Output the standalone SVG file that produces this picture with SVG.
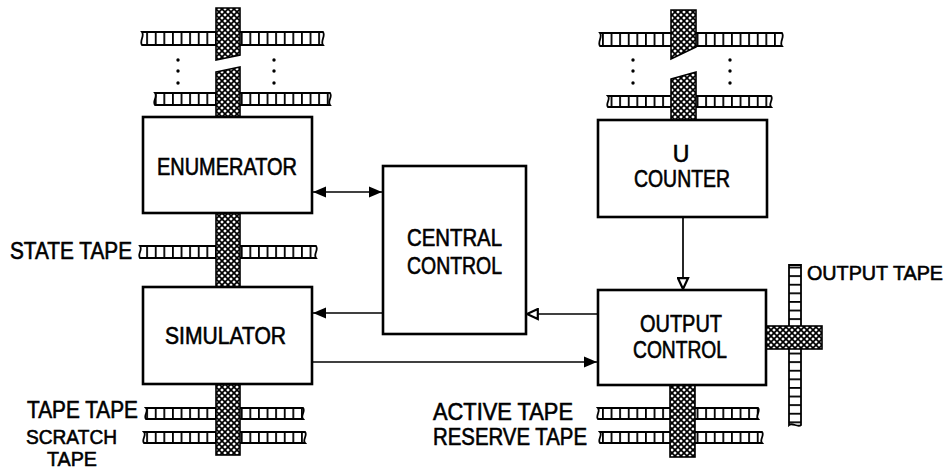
<svg xmlns="http://www.w3.org/2000/svg" width="952" height="472" viewBox="0 0 952 472">
<defs>
<pattern id="hatch" patternUnits="userSpaceOnUse" width="6" height="6">
<rect width="6" height="6" fill="#000"/>
<polygon points="3,1.2 4.8,3 3,4.8 1.2,3" fill="#fff"/>
<polygon points="0,-1.8 1.8,0 0,1.8 -1.8,0" fill="#fff"/>
<polygon points="6,-1.8 7.8,0 6,1.8 4.2,0" fill="#fff"/>
<polygon points="0,4.2 1.8,6 0,7.8 -1.8,6" fill="#fff"/>
<polygon points="6,4.2 7.8,6 6,7.8 4.2,6" fill="#fff"/>
</pattern>
<pattern id="cellsH" patternUnits="userSpaceOnUse" width="8.6" height="20">
<rect width="8.6" height="20" fill="#fff"/>
<rect x="0" y="0" width="1.8" height="20" fill="#000"/>
</pattern>
<pattern id="cellsV" patternUnits="userSpaceOnUse" width="20" height="8.6">
<rect width="20" height="8.6" fill="#fff"/>
<rect x="0" y="0" width="20" height="1.8" fill="#000"/>
</pattern>
<marker id="ah" markerUnits="userSpaceOnUse" markerWidth="14" markerHeight="12" refX="13" refY="6" orient="auto-start-reverse">
<path d="M0,0.5 L13,6 L0,11.5 Z" fill="#000"/>
</marker>
<marker id="ahh" markerUnits="userSpaceOnUse" markerWidth="14" markerHeight="13" refX="12" refY="6.5" orient="auto">
<path d="M1.2,1.5 L12,6.5 L1.2,11.5 Z" fill="#fff" stroke="#000" stroke-width="2.2"/>
</marker>
</defs>
<style>
.tapeH{fill:url(#cellsH);stroke:#000;stroke-width:1.8}
.tapeV{fill:url(#cellsV);stroke:#000;stroke-width:1.8}
.strip{fill:url(#hatch);stroke:#000;stroke-width:1.6}
.box{fill:#fff;stroke:#000;stroke-width:2.6}
.conn{fill:none;stroke:#000;stroke-width:1.7}
.lbl{font-family:"Liberation Sans",Arial,sans-serif;font-size:23px;fill:#000;stroke:#000;stroke-width:0.6}
.sm{font-size:21px}
.xs{font-size:20px}
.dot{fill:#000}
</style>

<g id="tapes">
<path class="tapeH" d="M142,32 H323 C326,36 320,41 323,45 H142 C139,41 145,36 142,32 Z"/>
<path class="tapeH" d="M155,93 H330 C333,97 327,101 330,105 H155 C152,101 158,97 155,93 Z"/>
<path class="tapeH" d="M140,246 H316 C319,250 313,254 316,258 H140 C137,254 143,250 140,246 Z"/>
<path class="tapeH" d="M146,408 H303 C306,411 300,416 303,419 H146 C143,416 149,411 146,408 Z"/>
<path class="tapeH" d="M144,432 H305 C308,435 302,440 305,443 H144 C141,440 147,435 144,432 Z"/>
<path class="tapeH" d="M600,33 H782 C785,37 779,42 782,46 H600 C597,42 603,37 600,33 Z"/>
<path class="tapeH" d="M608,96 H771 C774,99 768,104 771,107 H608 C605,104 611,99 608,96 Z"/>
<path class="tapeH" d="M598,408 H758 C761,411 755,416 758,419 H598 C595,416 601,411 598,408 Z"/>
<path class="tapeH" d="M600,432 H762 C765,435 759,440 762,443 H600 C597,440 603,435 600,432 Z"/>
<path class="tapeV" d="M789,265 H801 V425 C798,428 792,422 789,425 Z"/>
</g>

<g id="dots">
<circle class="dot" cx="178" cy="60" r="1.7"/><circle class="dot" cx="178" cy="71" r="1.7"/><circle class="dot" cx="178" cy="83" r="1.7"/>
<circle class="dot" cx="274" cy="60" r="1.7"/><circle class="dot" cx="274" cy="71" r="1.7"/><circle class="dot" cx="274" cy="83" r="1.7"/>
<circle class="dot" cx="633" cy="60" r="1.7"/><circle class="dot" cx="633" cy="71" r="1.7"/><circle class="dot" cx="633" cy="83" r="1.7"/>
<circle class="dot" cx="730" cy="60" r="1.7"/><circle class="dot" cx="730" cy="71" r="1.7"/><circle class="dot" cx="730" cy="83" r="1.7"/>
</g>

<g id="strips">
<polygon class="strip" points="216,8 240,8 240,55 216,60"/>
<polygon class="strip" points="216,72 240,67 240,118 216,118"/>
<rect class="strip" x="216" y="212" width="24" height="76"/>
<rect class="strip" x="216" y="383" width="24" height="72"/>
<polygon class="strip" points="671,10 696,10 696,47 671,59"/>
<polygon class="strip" points="671,79 696,72 696,121 671,121"/>
<rect class="strip" x="670" y="384" width="25" height="73"/>
<rect class="strip" x="766" y="326" width="56" height="23"/>
</g>

<g id="connectors">
<line class="conn" x1="313" y1="192" x2="382" y2="192" marker-start="url(#ah)" marker-end="url(#ah)"/>
<line class="conn" x1="383" y1="313" x2="313" y2="313" marker-end="url(#ah)"/>
<line class="conn" x1="598" y1="314" x2="527" y2="314" marker-end="url(#ahh)"/>
<line class="conn" x1="312" y1="362" x2="597" y2="362" marker-end="url(#ah)"/>
<line class="conn" x1="683" y1="217" x2="683" y2="289" marker-end="url(#ahh)"/>
</g>

<g id="enumerator">
<rect class="box" x="143" y="117" width="169" height="96"/>
<text class="lbl" x="157" y="175" textLength="140" lengthAdjust="spacingAndGlyphs">ENUMERATOR</text>
</g>
<g id="simulator">
<rect class="box" x="143" y="287" width="169" height="97"/>
<text class="lbl" x="165" y="344" textLength="121" lengthAdjust="spacingAndGlyphs">SIMULATOR</text>
</g>
<g id="central-control">
<rect class="box" x="383" y="166" width="143" height="168"/>
<text class="lbl" x="407" y="246" textLength="95" lengthAdjust="spacingAndGlyphs">CENTRAL</text>
<text class="lbl" x="407" y="274" textLength="95" lengthAdjust="spacingAndGlyphs">CONTROL</text>
</g>
<g id="u-counter">
<rect class="box" x="598" y="120" width="169" height="97"/>
<text class="lbl" x="681" y="162" text-anchor="middle">U</text>
<text class="lbl" x="634" y="187" textLength="96" lengthAdjust="spacingAndGlyphs">COUNTER</text>
</g>
<g id="output-control">
<rect class="box" x="598" y="290" width="168" height="95"/>
<text class="lbl" x="640" y="332" textLength="82" lengthAdjust="spacingAndGlyphs">OUTPUT</text>
<text class="lbl" x="633" y="358" textLength="94" lengthAdjust="spacingAndGlyphs">CONTROL</text>
</g>

<g id="labels">
<text class="lbl" x="10" y="259" textLength="122" lengthAdjust="spacingAndGlyphs">STATE TAPE</text>
<text class="lbl" x="27" y="418" textLength="111" lengthAdjust="spacingAndGlyphs">TAPE TAPE</text>
<text class="lbl sm" x="26" y="444" textLength="91" lengthAdjust="spacingAndGlyphs">SCRATCH</text>
<text class="lbl sm" x="47" y="466" textLength="50" lengthAdjust="spacingAndGlyphs">TAPE</text>
<text class="lbl" x="433" y="420" textLength="140" lengthAdjust="spacingAndGlyphs">ACTIVE TAPE</text>
<text class="lbl" x="433" y="445" textLength="154" lengthAdjust="spacingAndGlyphs">RESERVE TAPE</text>
<text class="lbl xs" x="807" y="280" textLength="136" lengthAdjust="spacingAndGlyphs">OUTPUT TAPE</text>
</g>
</svg>
